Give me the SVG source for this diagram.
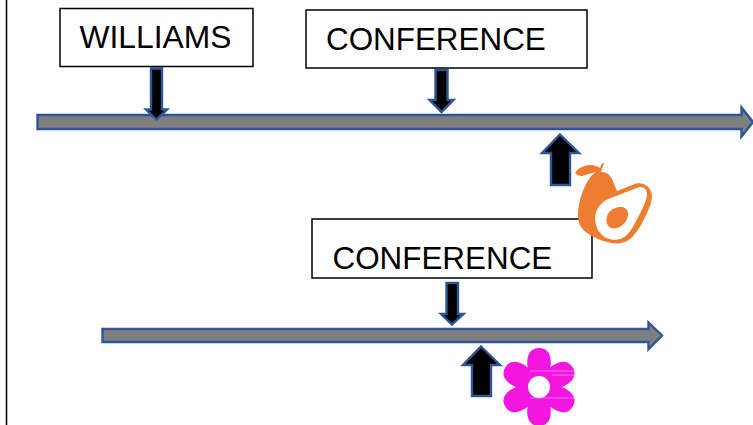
<svg xmlns="http://www.w3.org/2000/svg" xmlns:xlink="http://www.w3.org/1999/xlink" width="753" height="425" viewBox="0 0 753 425">
<style>
.box{fill:#fff;stroke:#000;stroke-width:1.5}
.lbl{font-family:"Liberation Sans",Arial,sans-serif;font-size:31.4px;fill:#000}
.bar{fill:#7f7f7f;stroke:#2f5597;stroke-width:2.4}
.pt{fill:#000;stroke:#2f5597;stroke-width:2.4}
.pet{fill:#f216e0}
</style>
<defs><path id="petal" d="M-9 -10C-14 -24 -13 -39 0 -39C13 -39 14 -24 9 -10Z"/></defs>
<rect width="753" height="425" fill="#fff"/>
<line x1="6.500" y1="0" x2="6.500" y2="425" stroke="#000" stroke-width="1.600"/>
<g id="connectors">
<path class="bar" d="M37.500 115H741.500V107.500L753 122L741.500 136.500V129H37.500Z"/>
<path class="bar" d="M102.500 329H648.500V322.500L662 335.500L648.500 349V342H102.500Z"/>
<path class="pt" d="M151 68.500H162V109.500H167L156.500 119.500L146 109.500H151Z"/>
<path class="pt" d="M435.500 70H447.500V100H453.500L441.500 112L429.500 100H435.500Z"/>
<path class="pt" d="M446.500 283H458V314H463.500L452 324.500L441 314H446.500Z"/>
<path class="pt" d="M560 134.500L579 153H570V185H551V153H542Z"/>
<path class="pt" d="M481 346.500L500 365H491V396H472V365H463Z"/>
</g>
<g id="node-williams"><rect class="box" x="60" y="8.500" width="193" height="58"/><text class="lbl" x="79.500" y="47.500" style="font-size:31.800px">WILLIAMS</text></g>
<g id="node-conference-1"><rect class="box" x="306" y="10" width="281" height="58"/><text class="lbl" x="326" y="50">CONFERENCE</text></g>
<g id="node-conference-2"><rect class="box" x="312" y="219" width="280" height="59"/><text class="lbl" x="332.500" y="269">CONFERENCE</text></g>
<g id="node-avocado">
<path fill="#ed7d31" d="M575 173C578 168 584 165 591 165C595 165 598 167 600 168L602 163L604 163.500L602 169L601 172C607 172 610 175 612 179L617 191L636 183.500C643 182 650 186 651.500 193C653 200 650 206 647 213C643 222 639 229 634 235C629 241 623 244 615 243.500C606 243 595 238 587 233C580 228 578 222 578 215C578 205 581 195 585 186C588 180 591 175 596 172C591 173 586 175 582 176C579 176 577 175 575 173Z"/>
<path fill="#fff" d="M595 217C596 209 600 204 606 200L621 194L638 187.500C643 186 647 189 647 194C647 201 641 212 635 223C631 231 626 238 618 239.500C610 241 602 237 598 230C596 226 595 222 595 217Z"/>
<path fill="#ed7d31" d="M606.500 219C607 213 611 209 617 207.500C623 206 628 208 628 214C628 221 622 228 614 228.500C609 228.500 606 224 606.500 219Z"/>
</g>
<g id="node-flower">
<circle cx="539" cy="387" r="19" class="pet"/>
<use xlink:href="#petal" href="#petal" class="pet" transform="translate(539 387)"/>
<use xlink:href="#petal" href="#petal" class="pet" transform="translate(539 387) rotate(60)"/>
<use xlink:href="#petal" href="#petal" class="pet" transform="translate(539 387) rotate(120)"/>
<use xlink:href="#petal" href="#petal" class="pet" transform="translate(539 387) rotate(180)"/>
<use xlink:href="#petal" href="#petal" class="pet" transform="translate(539 387) rotate(240)"/>
<use xlink:href="#petal" href="#petal" class="pet" transform="translate(539 387) rotate(300)"/>
<circle cx="539" cy="387" r="11" fill="#fff"/>
<path d="M530 371H575M552 375H575M530 398H575" stroke="#fff" stroke-opacity=".4" stroke-width="1" fill="none"/>
</g>
</svg>
